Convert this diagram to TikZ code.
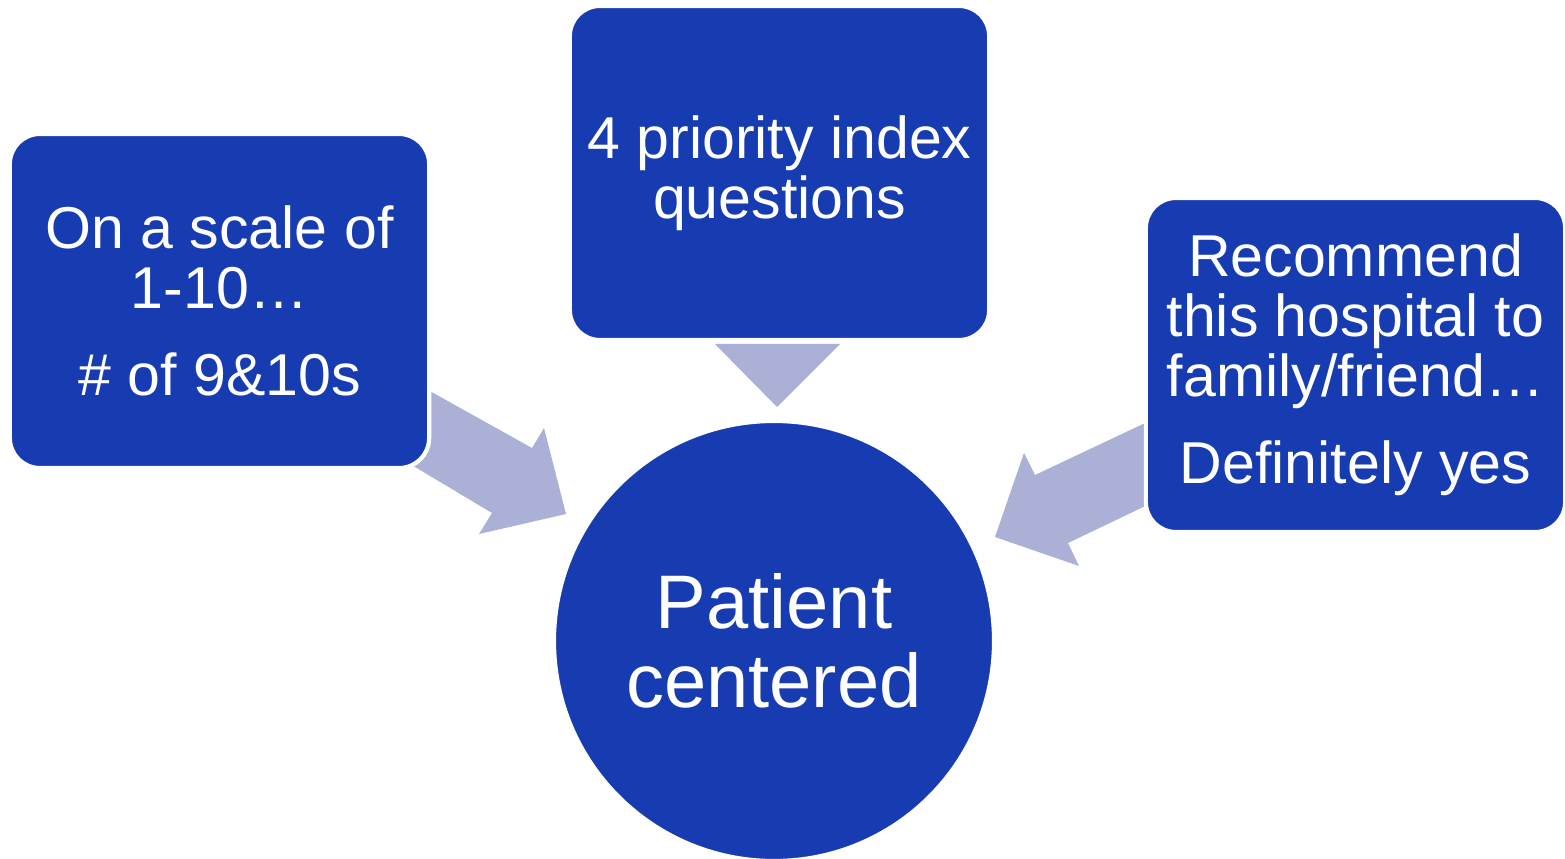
\documentclass[tikz,border=0pt]{standalone}
\usepackage{fontspec}
\setmainfont{Liberation Sans}
\usepackage{tikz}

\definecolor{boxblue}{HTML}{173CB2}
\definecolor{arrowgrey}{HTML}{AAB0D6}

\tikzset{
  blockarrow/.style={fill=arrowgrey,draw=none},
  infobox/.style={fill=boxblue,draw=white,line width=3pt,rounded corners=0.75cm,
    minimum width=10.48cm,minimum height=8.35cm,text=white,align=center,
    font=\fontsize{42pt}{42.5pt}\selectfont},
  hub/.style={circle,fill=boxblue,draw=white,line width=3pt,minimum size=11cm,
    text=white,align=center,font=\fontsize{54pt}{56pt}\selectfont}
}

\begin{document}
\begin{tikzpicture}[x=0.025cm,y=-0.025cm]
\useasboundingbox (0,0) rectangle (1565,859);

% arrows first, the boxes cover their tails
\fill[blockarrow] (410,380)-- (532,448)-- (544,428)-- (566,514)-- (479,534)-- (492,513)-- (400,458)-- cycle;
\fill[blockarrow] (715,344)-- (840,344)-- (777,407)-- cycle;
\fill[blockarrow] (1160,416)-- (1035,475)-- (1024,453)-- (995,537)-- (1079,566)-- (1068,543)-- (1160,499)-- cycle;

\node[infobox] (scale) at (219.5,301) {On a scale of\\1-10\ldots\\[20pt]\# of 9\&10s};
\node[infobox] (index) at (779.5,173) {4 priority index\\questions};
\node[infobox] (recommend) at (1355.5,365) {Recommend\\this hospital to\\family/friend\ldots\\[20pt]Definitely yes};

\node[hub] (patient) at (774,641) {Patient\\centered};

\end{tikzpicture}
\end{document}
